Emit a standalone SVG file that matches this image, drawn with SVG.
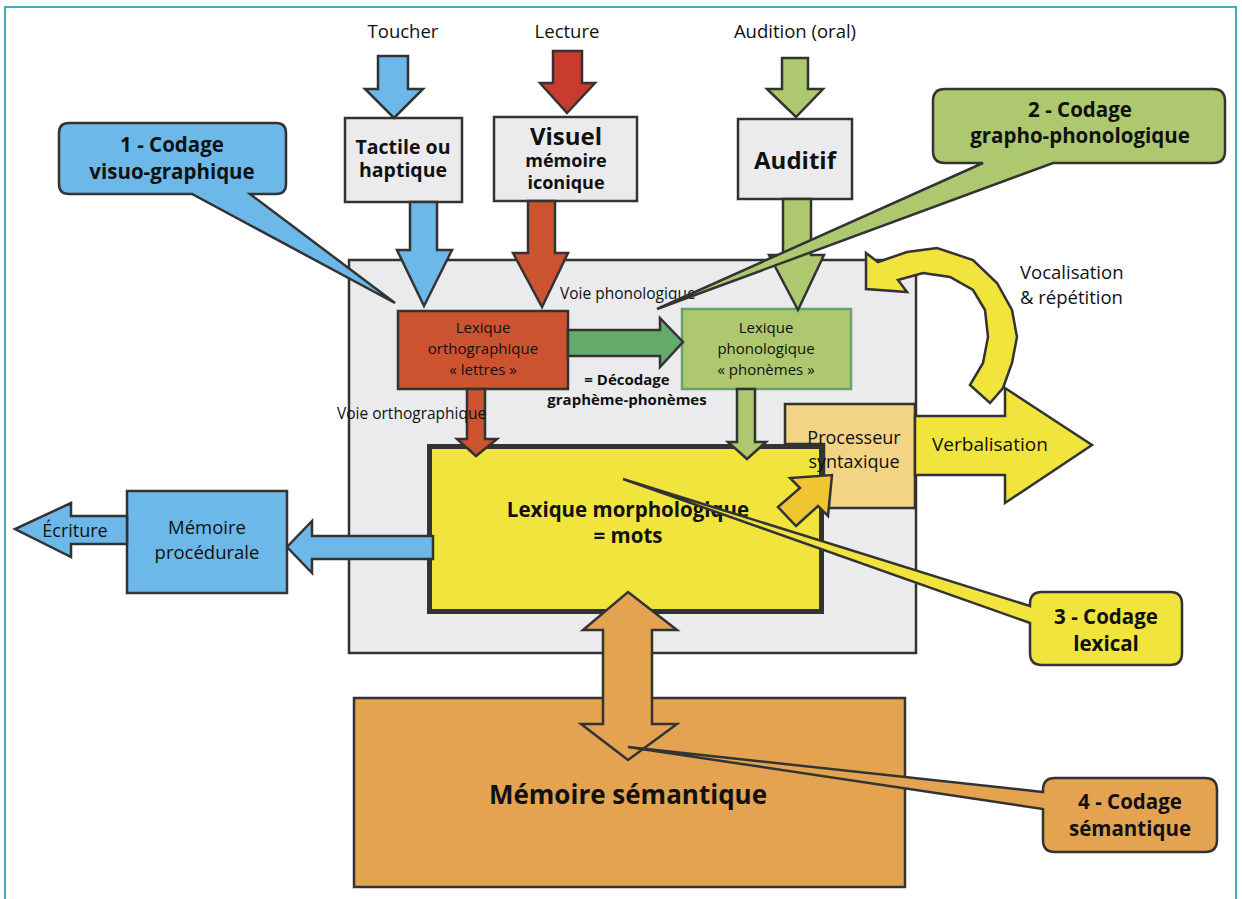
<svg xmlns="http://www.w3.org/2000/svg" width="1242" height="899" viewBox="0 0 1242 899">
<style>
text{font-family:"Open Sans","Noto Sans","Liberation Sans",sans-serif;fill:#111;}
.r{font-weight:400;}
.b{font-weight:700;}
.m{text-anchor:middle;}
.box{stroke:#333;stroke-width:2.5;stroke-linejoin:miter;}
.ar{stroke:#333;stroke-width:2.5;stroke-linejoin:miter;}
.gray{fill:#ebebed;}
.blue{fill:#6cb9e9;}
.red{fill:#c83b2d;}
.ored{fill:#cb5330;}
.lgreen{fill:#adc86e;}
.dgreen{fill:#64aa6a;}
.yellow{fill:#f0e43d;}
.gold{fill:#f0c531;}
.peach{fill:#f3d384;}
.orange{fill:#e3a351;}
</style>
<rect x="5" y="7" width="1231" height="900" fill="#fff" stroke="#45a8c4" stroke-width="2"/>

<g id="labels-top">
<text class="r m" x="403" y="38" font-size="18.5">Toucher</text>
<text class="r m" x="567" y="38" font-size="18.5">Lecture</text>
<text class="r m" x="795" y="38" font-size="18.5">Audition (oral)</text>
</g>

<g id="panel">
<rect class="box gray" x="349" y="260" width="567" height="393"/>
</g>

<g id="tactile">
<rect class="box gray" x="345" y="118" width="117" height="84"/>
<text class="b m" x="403" y="154" font-size="19.5">Tactile ou</text>
<text class="b m" x="403" y="177" font-size="19.5">haptique</text>
</g>

<g id="visuel">
<rect class="box gray" x="494" y="117" width="143" height="84"/>
<text class="b m" x="566" y="145" font-size="24">Visuel</text>
<text class="b m" x="566" y="167" font-size="18">mémoire</text>
<text class="b m" x="566" y="189" font-size="18">iconique</text>
</g>

<g id="auditif">
<rect class="box gray" x="738" y="119" width="114" height="80"/>
<text class="b m" x="795" y="169" font-size="24">Auditif</text>
</g>

<g id="lex-ortho">
<rect class="box ored" x="398" y="311" width="170" height="78"/>
<text class="r m" x="483" y="333" font-size="15">Lexique</text>
<text class="r m" x="483" y="354" font-size="15">orthographique</text>
<text class="r m" x="483" y="375" font-size="15">« lettres »</text>
</g>

<g id="lex-phono">
<rect x="682" y="309" width="169" height="80" class="lgreen" stroke="#6aa070" stroke-width="2.5"/>
<text class="r m" x="766" y="333" font-size="15">Lexique</text>
<text class="r m" x="766" y="354" font-size="15">phonologique</text>
<text class="r m" x="766" y="375" font-size="15">« phonèmes »</text>
</g>

<g id="lex-morpho">
<rect x="429.5" y="446.5" width="392" height="165" class="yellow" stroke="#333" stroke-width="5"/>
<text class="b m" x="628" y="517" font-size="20.5">Lexique morphologique</text>
<text class="b m" x="628" y="543" font-size="20.5">= mots</text>
</g>

<g id="processeur">
<path class="box peach" d="M785,404 H915 V508 H824 V444 H785 Z"/>
<text class="r m" x="854" y="444" font-size="18">Processeur</text>
<text class="r m" x="854" y="468" font-size="18">syntaxique</text>
</g>

<g id="memoire-procedurale">
<rect class="box blue" x="127" y="491" width="160" height="102"/>
<text class="r m" x="207" y="534" font-size="18.5">Mémoire</text>
<text class="r m" x="207" y="559" font-size="18.5">procédurale</text>
</g>

<g id="memoire-semantique">
<rect class="box orange" x="354" y="698" width="551" height="189"/>
<text class="b m" x="628" y="804" font-size="26">Mémoire sémantique</text>
</g>

<g id="connectors">
<polygon class="ar blue" points="378,56 408,56 408,89 423,89 394,118 365,89 378,89"/>
<polygon class="ar red" points="553,51 582,51 582,83 595,83 567,113 540,83 553,83"/>
<polygon class="ar lgreen" points="782,58 808,58 808,89 823,89 796,117 767,89 782,89"/>
<polygon class="ar blue" points="410,202 437,202 437,250 452,250 424,306 397,250 410,250"/>
<polygon class="ar ored" points="528,201 555,201 555,253 568,253 542,307 513,253 528,253"/>
<polygon class="ar lgreen" points="783,199 811,199 811,255 824,255 798,310 769,255 783,255"/>
<polygon class="ar dgreen" points="568,330 660,330 660,318 683,342 660,367 660,356 568,356"/>
<polygon class="ar ored" points="467,389 485,389 485,439 497,439 476,456 457,439 467,439"/>
<polygon class="ar lgreen" points="737,389 755,389 755,442 766,442 747,459 728,442 737,442"/>
<polygon class="ar gold" points="778,507 800,488 790,478 832,475 828,516 818,506 796,526"/>
<polygon class="ar yellow" points="915,416 1005,416 1005,388 1092,445 1005,503 1005,475 915,475"/>
<polygon class="ar blue" points="433,536 312,536 312,521 287,547 312,573 312,559 433,559"/>
<polygon class="ar blue" points="127,516 71,516 71,503 15,529 71,557 71,544 127,544"/>
<polygon class="ar orange" points="628,592 677,630 652,630 652,724 677,724 628,760 581,724 603,724 603,630 583,630"/>
<polygon class="ar yellow" points="866,253 878,262 907,252 937,248 973,260 997,283 1012,310 1017,337 1012,363 1003,388 990,403 970,385 983,363 988,337 985,310 973,290 950,277 923,273 898,280 907,292 866,289"/>
</g>

<g id="connector-labels">
<text class="r" x="560" y="299" font-size="15.5">Voie phonologique</text>
<text class="r" x="337" y="419" font-size="15.5">Voie orthographique</text>
<text class="b m" x="627" y="385" font-size="15">= Décodage</text>
<text class="b m" x="627" y="405" font-size="15">graphème-phonèmes</text>
<text class="r" x="932" y="451" font-size="19">Verbalisation</text>
<text class="r m" x="75" y="537" font-size="18">Écriture</text>
<text class="r" x="1020" y="279" font-size="18.5">Vocalisation</text>
<text class="r" x="1020" y="304" font-size="18.5">&amp; répétition</text>
</g>

<g id="callout-1">
<path class="box blue" d="M69,123 H276 Q286,123 286,133 V184 Q286,194 276,194 H250 L395,303 L192,194 H69 Q59,194 59,184 V133 Q59,123 69,123 Z"/>
<text class="b m" x="172" y="152" font-size="20.5">1 - Codage</text>
<text class="b m" x="172" y="179" font-size="20.5">visuo-graphique</text>
</g>

<g id="callout-2">
<path class="box lgreen" d="M945,89 H1213 Q1225,89 1225,101 V151 Q1225,163 1213,163 H1053 L657,309 L983,163 H945 Q933,163 933,151 V101 Q933,89 945,89 Z"/>
<text class="b m" x="1080" y="117" font-size="20.5">2 - Codage</text>
<text class="b m" x="1080" y="143" font-size="20.5">grapho-phonologique</text>
</g>

<g id="callout-3">
<path class="box yellow" d="M1042,592 H1170 Q1182,592 1182,604 V653 Q1182,665 1170,665 H1042 Q1030,665 1030,653 V623 L623,479 L1030,606 V604 Q1030,592 1042,592 Z"/>
<text class="b m" x="1106" y="624" font-size="20.5">3 - Codage</text>
<text class="b m" x="1106" y="651" font-size="20.5">lexical</text>
</g>

<g id="callout-4">
<path class="box orange" d="M1055,778 H1205 Q1217,778 1217,790 V840 Q1217,852 1205,852 H1055 Q1043,852 1043,840 V809 L628,747 L1043,792 V790 Q1043,778 1055,778 Z"/>
<text class="b m" x="1130" y="809" font-size="20.5">4 - Codage</text>
<text class="b m" x="1130" y="836" font-size="20.5">sémantique</text>
</g>
</svg>
